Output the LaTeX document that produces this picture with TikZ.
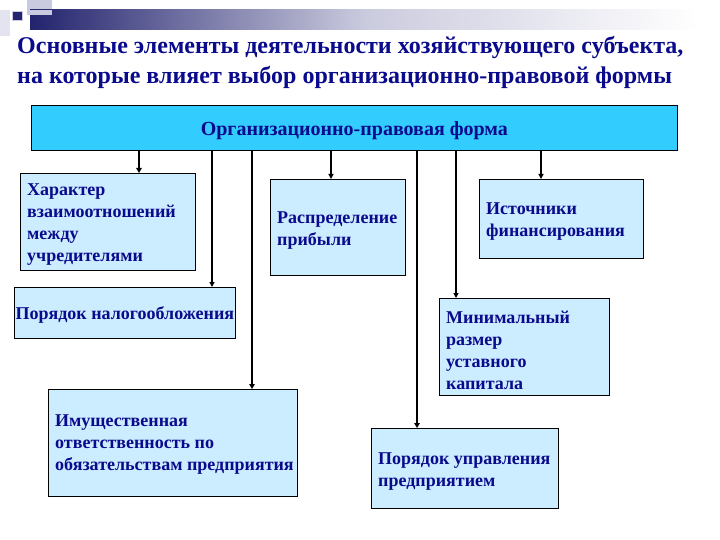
\documentclass[tikz,border=0pt]{standalone}
\usepackage{fontspec}
\setmainfont{Liberation Serif}
\usetikzlibrary{arrows.meta,calc}
\definecolor{navytext}{HTML}{0A0A8C}
\definecolor{mainfill}{HTML}{33CCFF}
\definecolor{boxfill}{HTML}{CCECFF}
\definecolor{decnavy}{HTML}{23236E}
\definecolor{declight}{HTML}{C9C9DF}
\definecolor{decpale}{HTML}{E4E4F0}
\tikzset{
  box/.style={draw=black, line width=0.8pt, fill=boxfill, anchor=north west, inner sep=0pt},
  boxtext/.style={anchor=west, align=left, inner sep=0pt, text=navytext,
    font=\fontsize{18}{22}\selectfont\bfseries},
  arrthin/.style={line width=1.2pt, -{Triangle[length=5pt,width=5pt]}},
  arrthick/.style={line width=2.4pt, -{Triangle[length=5pt,width=5.5pt]}},
}
\begin{document}
\begin{tikzpicture}[x=1pt,y=-1pt]
\useasboundingbox (0,0) rectangle (720,540);
% decoration
\fill[decpale] (0,10) rectangle (10,36);
\fill[declight] (27,0) rectangle (52,15);
\shade[left color=decnavy, right color=white, middle color=declight!80!decnavy!60] (30,10) rectangle (700,30);
\fill[declight] (27,10) rectangle (52,15);
\fill[decnavy, draw=declight, line width=1pt] (12,12) rectangle (22,21);
% title
\node[anchor=base west, text=navytext, inner sep=0pt,
  font=\fontsize{24}{30}\selectfont\bfseries] (title1) at (17,54)
  {Основные элементы деятельности хозяйствующего субъекта,};
\node[anchor=base west, text=navytext, inner sep=0pt,
  font=\fontsize{24}{30}\selectfont\bfseries] (title2) at (17,84)
  {на которые влияет выбор организационно-правовой формы};
% main box
\node[draw=black, line width=0.8pt, fill=mainfill, anchor=north west,
  minimum width=646pt, minimum height=45pt, inner sep=0pt] (main) at (31,105) {};
\node[text=navytext, inner sep=0pt, font=\fontsize{20}{24}\selectfont\bfseries]
  (maint) at ([yshift=-2.5pt]main.center) {Организационно-правовая форма};
% boxes
\node[box, minimum width=175pt, minimum height=97pt] (b1) at (20,173) {};
\node[boxtext] (t1) at ([xshift=7pt,yshift=-3pt]b1.west)
  {Характер\\взаимоотношений\\между\\учредителями};
\node[box, minimum width=135pt, minimum height=96pt] (b2) at (270,179) {};
\node[boxtext] (t2) at ([xshift=7pt,yshift=-3pt]b2.west)
  {Распределение\\прибыли};
\node[box, minimum width=164pt, minimum height=79pt] (b3) at (479,179) {};
\node[boxtext] (t3) at ([xshift=7pt,yshift=-3pt]b3.west)
  {Источники\\финансирования};
\node[box, minimum width=221pt, minimum height=51pt] (b4) at (14,287) {};
\node[boxtext, anchor=center] (t4) at ([yshift=-2pt]b4.center)
  {Порядок налогообложения};
\node[box, minimum width=170pt, minimum height=97pt] (b5) at (439,298) {};
\node[boxtext] (t5) at ([xshift=7pt,yshift=-3pt]b5.west)
  {Минимальный\\размер\\уставного\\капитала};
\node[box, minimum width=249pt, minimum height=107pt] (b6) at (48,389) {};
\node[boxtext] (t6) at ([xshift=7pt,yshift=-2pt]b6.west)
  {Имущественная\\ответственность по\\обязательствам предприятия};
\node[box, minimum width=187pt, minimum height=80pt] (b7) at (371,428) {};
\node[boxtext] (t7) at ([xshift=7pt,yshift=-3pt]b7.west)
  {Порядок управления\\предприятием};
% connectors
\draw[arrthick] (main.south -| 139,0) -- (b1.north -| 139,0);
\draw[arrthin]  (main.south -| 212,0) -- (b4.north -| 212,0);
\draw[arrthick] (main.south -| 252,0) -- (b6.north -| 252,0);
\draw[arrthin]  (main.south -| 331,0) -- (b2.north -| 331,0);
\draw[arrthick] (main.south -| 417,0) -- (b7.north -| 417,0);
\draw[arrthin]  (main.south -| 456,0) -- (b5.north -| 456,0);
\draw[arrthin]  (main.south -| 541,0) -- (b3.north -| 541,0);
\end{tikzpicture}
\end{document}
